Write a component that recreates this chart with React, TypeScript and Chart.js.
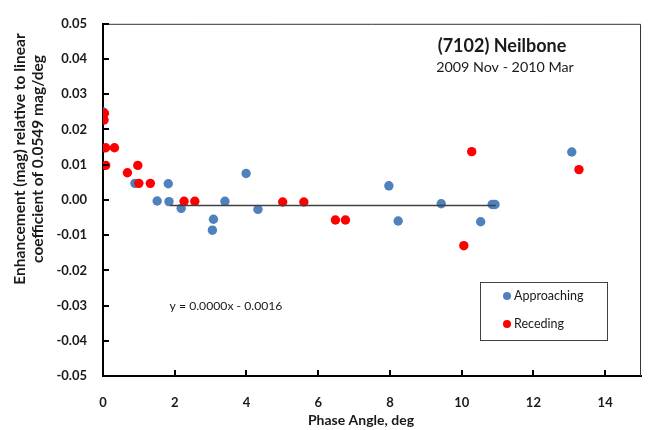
import React, { useEffect, useRef } from "react";
import { Chart, registerables } from "chart.js";

Chart.register(...registerables);

const approachingX = [0.0, 0.89, 1.51, 1.82, 1.84, 2.18, 3.05, 3.08, 3.4, 3.99, 4.32, 7.97, 8.23, 9.43, 10.53, 10.85, 10.93, 13.07];
const approachingY = [0.025, 0.0047, -0.0003, 0.0046, -0.0005, -0.0024, -0.0086, -0.0055, -0.0004, 0.0075, -0.0027, 0.004, -0.006, -0.0011, -0.0062, -0.0013, -0.0013, 0.0136];

const recedingX = [0.04, 0.03, 0.075, 0.32, 0.075, 0.68, 0.97, 1.0, 1.32, 2.26, 2.56, 5.01, 5.6, 6.48, 6.76, 10.06, 10.28, 13.27];
const recedingY = [0.0246, 0.0227, 0.0148, 0.0148, 0.0098, 0.0077, 0.0098, 0.0047, 0.0047, -0.0004, -0.0004, -0.0006, -0.0006, -0.0057, -0.0057, -0.013, 0.0137, 0.0086];

const trendX = [1.87, 10.95];
const trendY = [-0.0016, -0.0016];

const xTickValues = [0, 2, 4, 6, 8, 10, 12, 14];
const xTickLabels = ["0", "2", "4", "6", "8", "10", "12", "14"];
const yTickValues = [-0.05, -0.04, -0.03, -0.02, -0.01, 0, 0.01, 0.02, 0.03, 0.04, 0.05];
const yTickLabels = ["-0.05", "-0.04", "-0.03", "-0.02", "-0.01", "0.00", "0.01", "0.02", "0.03", "0.04", "0.05"];

const titleText = "(7102) Neilbone";
const subtitleText = "2009 Nov - 2010 Mar";
const equationText = "y = 0.0000x - 0.0016";
const xTitle = "Phase Angle, deg";
const yTitleLines = ["Enhancement (mag) relative to linear", "coefficient of 0.0549 mag/deg"];

const BLUE = "#4F81BD";
const RED = "#FF0000";
const FONT = "Lato, 'Open Sans', sans-serif";
const TEXT = "#1a1a1a";

function pts(xs: number[], ys: number[]) {
  return xs.map((x, i) => ({ x, y: ys[i] }));
}

export default function App() {
  const ref = useRef<HTMLCanvasElement>(null);

  useEffect(() => {
    document.body.style.margin = "0";
    const canvas = ref.current;
    if (!canvas) return;

    const decor = {
      id: "decor",
      afterDraw(chart: any) {
        const { ctx, chartArea: a, scales } = chart;
        const xs = scales.x;
        const ys = scales.y;
        ctx.save();
        // top & right frame
        ctx.strokeStyle = "#333";
        ctx.lineWidth = 1;
        ctx.beginPath();
        ctx.moveTo(a.left, a.top + 0.5);
        ctx.lineTo(a.right - 0.5, a.top + 0.5);
        ctx.lineTo(a.right - 0.5, a.bottom);
        ctx.stroke();

        // inside tick marks
        ctx.strokeStyle = "#000";
        ctx.lineWidth = 2;
        ctx.beginPath();
        yTickValues.forEach((v) => {
          const y = Math.round(ys.getPixelForValue(v));
          ctx.moveTo(a.left, y);
          ctx.lineTo(a.left + 6, y);
        });
        xTickValues.forEach((v) => {
          const x = Math.round(xs.getPixelForValue(v));
          ctx.moveTo(x, a.bottom);
          ctx.lineTo(x, a.bottom - 6);
        });
        ctx.stroke();

        // titles
        ctx.fillStyle = TEXT;
        ctx.textAlign = "center";
        ctx.textBaseline = "middle";
        ctx.font = `bold 18px ${FONT}`;
        ctx.fillText(titleText, 502, 46);
        ctx.font = `14.3px ${FONT}`;
        ctx.fillText(subtitleText, 505, 67);

        ctx.font = `12.2px ${FONT}`;
        ctx.fillText(equationText, 226, 306);

        ctx.font = `bold 14px ${FONT}`;
        ctx.fillText(xTitle, 361, 420);

        ctx.save();
        ctx.translate(20, 159);
        ctx.rotate(-Math.PI / 2);
        ctx.font = `bold 15.5px ${FONT}`;
        ctx.fillText(yTitleLines[0], 0, 0);
        ctx.fillText(yTitleLines[1], 0, 18);
        ctx.restore();

        // legend
        ctx.strokeStyle = "#404040";
        ctx.lineWidth = 1;
        ctx.strokeRect(480.5, 282.5, 127, 58);
        const legendItems = chart.data.datasets.filter((d: any) => d.label);
        const order = ["Approaching", "Receding"];
        order.forEach((lab, i) => {
          const ds = legendItems.find((d: any) => d.label === lab);
          if (!ds) return;
          const y = 296 + i * 28;
          ctx.fillStyle = ds.backgroundColor;
          ctx.beginPath();
          ctx.arc(507, y, 4, 0, Math.PI * 2);
          ctx.fill();
          ctx.fillStyle = TEXT;
          ctx.textAlign = "left";
          ctx.font = `12.5px ${FONT}`;
          ctx.fillText(lab, 514, y);
        });
        ctx.restore();
      },
    };

    const chart = new Chart(canvas, {
      type: "scatter",
      data: {
        datasets: [
          {
            type: "line",
            label: "",
            data: pts(trendX, trendY),
            borderColor: "#404040",
            borderWidth: 1.6,
            pointRadius: 0,
            showLine: true,
            fill: false,
            order: 0,
          } as any,
          {
            label: "Receding",
            data: pts(recedingX, recedingY),
            backgroundColor: RED,
            borderWidth: 0,
            pointRadius: 4.7,
            order: 1,
          },
          {
            label: "Approaching",
            data: pts(approachingX, approachingY),
            backgroundColor: BLUE,
            borderWidth: 0,
            pointRadius: 4.7,
            order: 2,
          },
        ],
      },
      options: {
        responsive: false,
        animation: false,
        events: [],
        layout: { padding: { top: 12, right: 7, left: 0, bottom: 0 } },
        plugins: {
          legend: { display: false },
          tooltip: { enabled: false },
          title: { display: false },
        },
        scales: {
          x: {
            type: "linear",
            min: 0,
            max: 15,
            afterBuildTicks: (s: any) => {
              s.ticks = xTickValues.map((v) => ({ value: v }));
            },
            afterFit: (s: any) => {
              s.height = 54;
            },
            grid: { display: false, drawTicks: false },
            border: { display: true, color: "#000", width: 2 },
            ticks: {
              autoSkip: false,
              maxRotation: 0,
              padding: 19,
              color: TEXT,
              font: { family: FONT, size: 13, weight: "bold" },
              callback: (_v: any, i: number) => xTickLabels[i],
            },
          },
          y: {
            type: "linear",
            min: -0.05,
            max: 0.05,
            afterBuildTicks: (s: any) => {
              s.ticks = yTickValues.map((v) => ({ value: v }));
            },
            afterFit: (s: any) => {
              s.width = 103;
            },
            grid: { display: false, drawTicks: false },
            border: { display: true, color: "#000", width: 2 },
            ticks: {
              autoSkip: false,
              padding: 16,
              color: TEXT,
              font: { family: FONT, size: 13, weight: "bold" },
              callback: (_v: any, i: number) => yTickLabels[i],
            },
          },
        },
      },
      plugins: [decor],
    } as any);

    return () => chart.destroy();
  }, []);

  return (
    <div style={{ width: 648, height: 430, background: "#fff" }}>
      <canvas ref={ref} width={648} height={430} style={{ display: "block" }} />
    </div>
  );
}
